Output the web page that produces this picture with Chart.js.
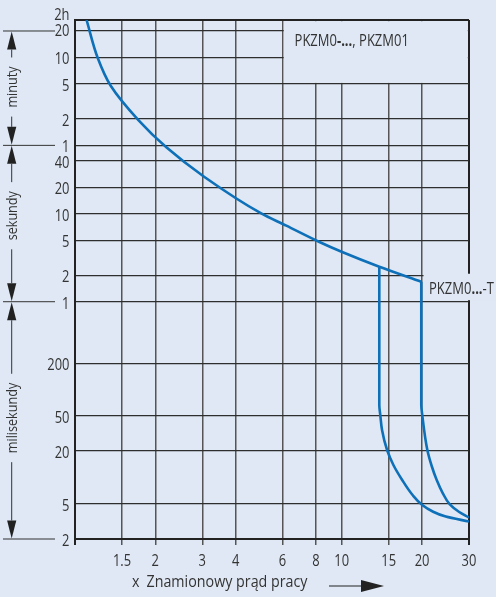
<!DOCTYPE html>
<html><head><meta charset="utf-8">
<script src="https://cdn.jsdelivr.net/npm/chart.js@4/dist/chart.umd.min.js"></script>
<style>html,body{margin:0;padding:0;background:#dfe8f4;}#wrap{width:496px;height:597px;position:relative;}canvas{display:block}</style>
</head><body><div id="wrap"><canvas id="c" width="496" height="597"></canvas></div>
<script>
// x: multiples of rated current; y: tripping time in seconds
const xTickValues = [1, 1.5, 2, 3, 4, 6, 8, 10, 15, 20, 30];
const xTickLabels = ['', '1.5', '2', '3', '4', '6', '8', '10', '15', '20', '30'];
const yTickValues = [0.002, 0.005, 0.02, 0.05, 0.2, 1, 2, 5, 10, 20, 40, 60, 120, 300, 600, 1200, 1600];
const yTickLabels = ['2', '5', '20', '50', '200', '1', '2', '5', '10', '20', '40', '1', '2', '5', '10', '20', '2h'];
const yUnitBounds = [1200, 60, 1, 0.002];
const yUnitNames = ['minuty', 'sekundy', 'milisekundy'];

const mainX = [1.105, 1.216, 1.361, 1.732, 2.2, 3.048, 4.99, 6.2, 8.21, 10.09, 13.83, 19.87];
const mainY = [1600, 596, 286, 115.7, 57.0, 26.4, 10.1, 7.32, 4.81, 3.65, 2.50, 1.69];
const highX = [19.87, 19.87, 20.04, 20.94, 21.74, 22.7, 23.91, 25.42, 27.48, 30];
const highY = [1.69, 0.0668, 0.0514, 0.02056, 0.01353, 0.00938, 0.00667, 0.00494, 0.00408, 0.00351];
const lowX = [13.83, 13.83, 13.95, 14.16, 14.79, 15.62, 16.85, 18.43, 20.04, 21.93, 24.55, 30];
const lowY = [2.50, 0.0668, 0.0514, 0.0347, 0.02056, 0.01389, 0.00938, 0.00633, 0.00487, 0.00411, 0.00360, 0.00316];

const xTitleX = 'x';
const xTitle = 'Znamionowy prąd pracy';
const boxLabel = [['PKZM0', false], ['-...', true], [', PKZM01', false]];
const tLabel = [['PKZM0', false], ['...', true], ['-T', false]];

const BG = '#dfe8f4';
const TXT = '#333333';
const CURVE = '#0e70b8';
const FONT = "'Open Sans', sans-serif";
const SX = 0.84;

function pts(xs, ys) { return xs.map((v, i) => ({ x: v, y: ys[i] })); }

function txt(ctx, s, x, y, size, align, bold) {
  ctx.save();
  ctx.translate(x, y);
  ctx.scale(SX, 1);
  ctx.font = (bold ? 'bold ' : '') + size + 'px ' + FONT;
  ctx.textAlign = align;
  ctx.textBaseline = 'middle';
  ctx.fillText(s, 0, 0);
  const w = ctx.measureText(s).width * SX;
  ctx.restore();
  return w;
}

function drawRuns(ctx, runs, x, y, size) {
  let cx = x;
  for (const [t, bold] of runs) cx += txt(ctx, t, cx, y, size, 'left', bold);
}

const decor = {
  id: 'decor',
  beforeDatasetsDraw(chart) {
    const { ctx, scales: { x, y }, chartArea: ca } = chart;
    ctx.save();
    ctx.fillStyle = BG;
    const bx0 = x.getPixelForValue(6) + 1.2, bx1 = x.getPixelForValue(30) - 1.2;
    const by0 = ca.top + 1.2, by1 = y.getPixelForValue(300) - 1;
    ctx.fillRect(bx0, by0, bx1 - bx0, by1 - by0);
    const tx0 = x.getPixelForValue(20) + 1.5;
    const ty0 = y.getPixelForValue(2) - 1.5, ty1 = y.getPixelForValue(1) - 1.5;
    ctx.fillRect(tx0, ty0, chart.width - tx0, ty1 - ty0);
    ctx.restore();
  },
  afterDraw(chart) {
    const { ctx, scales: { x, y }, chartArea: ca } = chart;
    ctx.save();
    ctx.fillStyle = TXT;
    drawRuns(ctx, boxLabel, x.getPixelForValue(6) + 12, ca.top + 22, 15.5);
    drawRuns(ctx, tLabel, x.getPixelForValue(20) + 7, (y.getPixelForValue(2) + y.getPixelForValue(1)) / 2 + 1, 15.5);
    yTickValues.forEach((v, i) => {
      let off = 2.5;
      if (i === yTickValues.length - 1) off = -4.5;
      if (i === yTickValues.length - 2) off = 1;
      txt(ctx, yTickLabels[i], ca.left - 5.5, y.getPixelForValue(v) + off, 15.4, 'right', false);
    });
    xTickValues.forEach((v, i) => {
      if (xTickLabels[i]) txt(ctx, xTickLabels[i], x.getPixelForValue(v), ca.bottom + 22.5, 15.4, 'center', false);
    });
    txt(ctx, xTitleX, 132, 582, 17, 'left', false);
    txt(ctx, xTitle, 146.5, 582, 17, 'left', false);
    ctx.strokeStyle = '#222';
    ctx.lineWidth = 1.2;
    ctx.beginPath(); ctx.moveTo(329, 586); ctx.lineTo(363, 586); ctx.stroke();
    ctx.fillStyle = '#222';
    ctx.beginPath(); ctx.moveTo(361, 580); ctx.lineTo(384, 586); ctx.lineTo(361, 592); ctx.closePath(); ctx.fill();
    const ax = 11.7;
    const yy = yUnitBounds.map(v => y.getPixelForValue(v));
    ctx.strokeStyle = '#333';
    ctx.lineWidth = 1;
    yy.forEach(p => { ctx.beginPath(); ctx.moveTo(3, p); ctx.lineTo(55, p); ctx.stroke(); });
    const fr = [0.49, 0.45, 0.49];
    yUnitNames.forEach((name, i) => {
      const a = yy[i], b = yy[i + 1];
      const head = 18.5, hw = 4.6;
      ctx.fillStyle = '#222';
      ctx.beginPath(); ctx.moveTo(ax, a + 0.5); ctx.lineTo(ax + hw, a + head); ctx.lineTo(ax - hw, a + head); ctx.closePath(); ctx.fill();
      ctx.beginPath(); ctx.moveTo(ax, b - 0.5); ctx.lineTo(ax + hw, b - head); ctx.lineTo(ax - hw, b - head); ctx.closePath(); ctx.fill();
      const c = a + (b - a) * fr[i];
      ctx.font = '15px ' + FONT;
      const L = ctx.measureText(name).width * SX;
      ctx.beginPath();
      ctx.moveTo(ax, a + head); ctx.lineTo(ax, c - L / 2 - 9);
      ctx.moveTo(ax, c + L / 2 + 9); ctx.lineTo(ax, b - head);
      ctx.stroke();
      ctx.save();
      ctx.translate(ax + 1, c);
      ctx.rotate(-Math.PI / 2);
      ctx.fillStyle = TXT;
      txt(ctx, name, 0, 0, 15, 'center', false);
      ctx.restore();
    });
    ctx.restore();
  }
};

const lineStyle = { borderColor: CURVE, borderWidth: 2.6, pointRadius: 0, fill: false, cubicInterpolationMode: 'monotone', indexAxis: 'y' };

new Chart(document.getElementById('c'), {
  type: 'line',
  data: {
    datasets: [
      Object.assign({ label: 'PKZM0', data: pts(mainX, mainY) }, lineStyle),
      Object.assign({ label: 'PKZM0-T high', data: pts(highX, highY) }, lineStyle),
      Object.assign({ label: 'PKZM0-T low', data: pts(lowX, lowY) }, lineStyle)
    ]
  },
  options: {
    responsive: false,
    animation: false,
    layout: { padding: { left: 0, right: 27, top: 20, bottom: 0 } },
    plugins: { legend: { display: false }, tooltip: { enabled: false } },
    scales: {
      x: {
        type: 'logarithmic', min: 1, max: 30,
        afterBuildTicks: s => { s.ticks = xTickValues.map(v => ({ value: v })); },
        afterFit: s => { s.height = 58; },
        ticks: { display: false },
        grid: {
          drawTicks: true, tickLength: 6,
          color: c => (c.tick && (c.tick.value === 30 || c.tick.value === 1)) ? '#222' : '#555',
          lineWidth: c => (c.tick && (c.tick.value === 30 || c.tick.value === 1)) ? 2 : 1.5
        },
        border: { display: true, color: '#222', width: 2 }
      },
      y: {
        type: 'logarithmic', min: 0.002, max: 1600,
        afterBuildTicks: s => { s.ticks = yTickValues.map(v => ({ value: v })); },
        afterFit: s => { s.width = 75; },
        ticks: { display: false },
        grid: {
          drawTicks: false,
          color: c => (c.tick && c.tick.value === 1600) ? '#222' : '#2e2e2e',
          lineWidth: c => (c.tick && c.tick.value === 1600) ? 2 : 1.2
        },
        border: { display: true, color: '#222', width: 2 }
      }
    }
  },
  plugins: [decor]
});
</script>
</body></html>
